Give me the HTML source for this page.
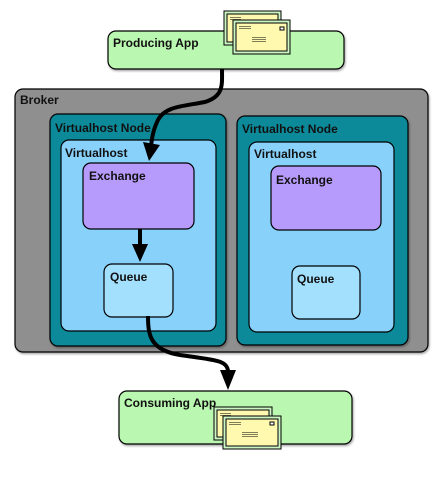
<!DOCTYPE html>
<html><head><style>
html,body{margin:0;padding:0;background:#fff;width:443px;height:478px;overflow:hidden}
svg text{font-family:"Liberation Sans",sans-serif;font-weight:bold;font-size:12px;fill:#111}
</style></head><body>
<svg width="443" height="478" viewBox="0 0 443 478" xmlns="http://www.w3.org/2000/svg">
<defs>
<filter id="sh" x="-5%" y="-5%" width="115%" height="115%"><feDropShadow dx="1" dy="1.5" stdDeviation="1" flood-opacity="0.35"/></filter>
</defs>
<g stroke="#000" stroke-width="1.2">
<rect x="108" y="31" width="236" height="38" rx="8" fill="#baf7b0" filter="url(#sh)"/>
<rect x="15" y="89" width="413" height="263" rx="8" fill="#8f8f8f" filter="url(#sh)"/>
<rect x="50" y="114" width="176" height="232" rx="8" fill="#078a9a" filter="url(#sh)"/>
<rect x="237" y="116" width="171" height="229" rx="8" fill="#078a9a" filter="url(#sh)"/>
<rect x="61" y="140" width="155" height="191" rx="8" fill="#88d1fb"/>
<rect x="249" y="142" width="145" height="190" rx="8" fill="#88d1fb"/>
<rect x="83" y="163" width="111" height="66" rx="8" fill="#b79bfc"/>
<rect x="271" y="166" width="110" height="64" rx="8" fill="#b79bfc"/>
<rect x="104" y="264" width="69" height="53" rx="8" fill="#a3e0fd"/>
<rect x="292" y="266" width="68" height="53" rx="8" fill="#a3e0fd"/>
<rect x="119" y="391" width="233" height="53" rx="8" fill="#baf7b0" filter="url(#sh)"/>
</g>
<text x="113" y="47">Producing App</text>
<text x="20" y="104">Broker</text>
<text x="55" y="132">Virtualhost Node</text>
<text x="242" y="133">Virtualhost Node</text>
<text x="65" y="157">Virtualhost</text>
<text x="254" y="158">Virtualhost</text>
<text x="89" y="180">Exchange</text>
<text x="276" y="184">Exchange</text>
<text x="110" y="281">Queue</text>
<text x="297" y="283">Queue</text>
<text x="124" y="407">Consuming App</text>
<g fill="none" stroke="#000" stroke-width="4">
<path d="M222 69 C222 85 224 96 205 102 C185 106 165 106 158 120 C153 130 152 138 151 146"/>
<path d="M148 316 C148 335 150 350 180 355 C215 360 228 360 228 372"/>
<path d="M140 229 L140 246"/>
</g>
<g fill="#000">
<path d="M143 142 L160 145 L149 161 Z"/>
<path d="M220 370 L236 370 L228 390 Z"/>
<path d="M132 244 L148 244 L140 262 Z"/>
</g>
<g stroke="#000" stroke-width="1">
<rect x="224" y="11" width="57" height="34" fill="#ccf5c4"/>
<rect x="227" y="14" width="51" height="28" fill="#fff9b0"/>
<rect x="233" y="20" width="57" height="34" fill="#ccf5c4"/>
<rect x="236" y="23" width="51" height="28" fill="#fff9b0"/>
<rect x="280" y="27" width="4" height="3" fill="#fff"/>
<rect x="214" y="407" width="58" height="33" fill="#ccf5c4"/>
<rect x="217" y="410" width="52" height="27" fill="#fff9b0"/>
<rect x="223" y="416" width="58" height="33" fill="#ccf5c4"/>
<rect x="226" y="419" width="52" height="27" fill="#fff9b0"/>
<rect x="270" y="422" width="4" height="3" fill="#fff"/>
</g>
<g stroke="#000" stroke-width="0.6">
<path d="M230 17.5h11M230 19.5h11M239 26.5h12M239 28.5h12M252 37.5h14M252 39.5h14M252 41.5h14"/>
<path d="M220 413.5h11M220 415.5h11M229 422.5h12M229 424.5h12M242 432.5h16M242 434.5h16M242 436.5h16"/>
</g>
</svg>
</body></html>
